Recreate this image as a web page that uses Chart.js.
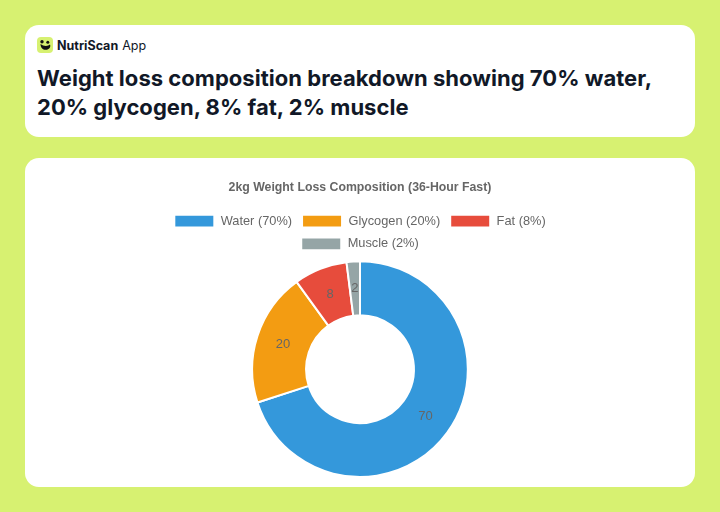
<!DOCTYPE html>
<html>
<head>
<meta charset="utf-8">
<title>Weight loss composition</title>
<script src="https://cdn.jsdelivr.net/npm/chart.js@4"></script>
<style>
    html, body { margin: 0; padding: 0; }
    body { width: 720px; height: 512px; background: #d7f171; position: relative; overflow: hidden; font-family: Inter, sans-serif; }
    .card { position: absolute; left: 25px; width: 670px; background: #fff; border-radius: 14px; }
    .header { top: 25px; height: 112px; }
    .body { top: 158px; height: 329px; }
    .brand { position: absolute; left: 12px; top: 12px; height: 16px; display: flex; align-items: center; font-size: 12.5px; color: #111827; }
    .brand svg { margin-right: 4px; }
    .brand b { font-weight: 700; margin-right: 4px; }
    h1 { position: absolute; left: 12px; top: 39px; margin: 0; font-size: 22px; line-height: 29px; font-weight: 700; color: #111827; letter-spacing: 0.03px; white-space: nowrap; }
    canvas { position: absolute; left: 95px; top: 12px; }
</style>
</head>
<body>
<div class="card header">
    <div class="brand">
        <svg width="16" height="16" viewBox="0 0 16 16"><rect width="16" height="16" rx="4" fill="#d7f171"/><path d="M3.5 7 C3.5 11 6.5 13.5 10 12.7 C13 12 13.8 9.5 13 7.5 C11 9.5 6.5 9.5 3.5 7 Z" fill="#111"/><circle cx="5" cy="4.8" r="1.7" fill="#111"/><circle cx="10.8" cy="5.3" r="1.5" fill="#111"/></svg>
        <b>NutriScan</b>App
    </div>
    <h1>Weight loss composition breakdown showing 70% water,<br>20% glycogen, 8% fat, 2% muscle</h1>
</div>
<div class="card body">
    <canvas id="compositionChart" width="480" height="317"></canvas>
</div>
<script>
const categories = ['Water (70%)', 'Glycogen (20%)', 'Fat (8%)', 'Muscle (2%)'];
const shares = [70, 20, 8, 2];
const sliceColors = ['#3498db', '#f39c12', '#e74c3c', '#95a5a6'];

// Prints each value in the middle of its slice
const sliceValues = {
    id: 'sliceValues',
    afterDatasetsDraw(chart) {
        const ctx = chart.ctx;
        ctx.save();
        ctx.font = '13px "Liberation Sans", Arial, sans-serif';
        ctx.fillStyle = '#666';
        ctx.textAlign = 'center';
        ctx.textBaseline = 'middle';
        chart.getDatasetMeta(0).data.forEach((arc, i) => {
            const pos = arc.tooltipPosition();
            ctx.fillText(shares[i], pos.x, pos.y);
        });
        ctx.restore();
    }
};

new Chart(document.getElementById('compositionChart'), {
    type: 'doughnut',
    data: {
        labels: categories,
        datasets: [{
            data: shares,
            backgroundColor: sliceColors,
            borderColor: '#fff',
            borderWidth: 2
        }]
    },
    options: {
        responsive: false,
        animation: false,
        cutout: '50%',
        layout: { padding: { top: 10, bottom: 9 } },
        plugins: {
            title: {
                display: true,
                text: '2kg Weight Loss Composition (36-Hour Fast)',
                color: '#666',
                font: { family: '"Liberation Sans", Arial, sans-serif', size: 12.3, weight: 'bold' },
                padding: { top: 0, bottom: 10 }
            },
            legend: {
                position: 'top',
                labels: {
                    color: '#666',
                    font: { family: '"Liberation Sans", Arial, sans-serif', size: 12.8 }
                }
            },
            tooltip: { enabled: false }
        }
    },
    plugins: [sliceValues]
});
</script>
</body>
</html>
